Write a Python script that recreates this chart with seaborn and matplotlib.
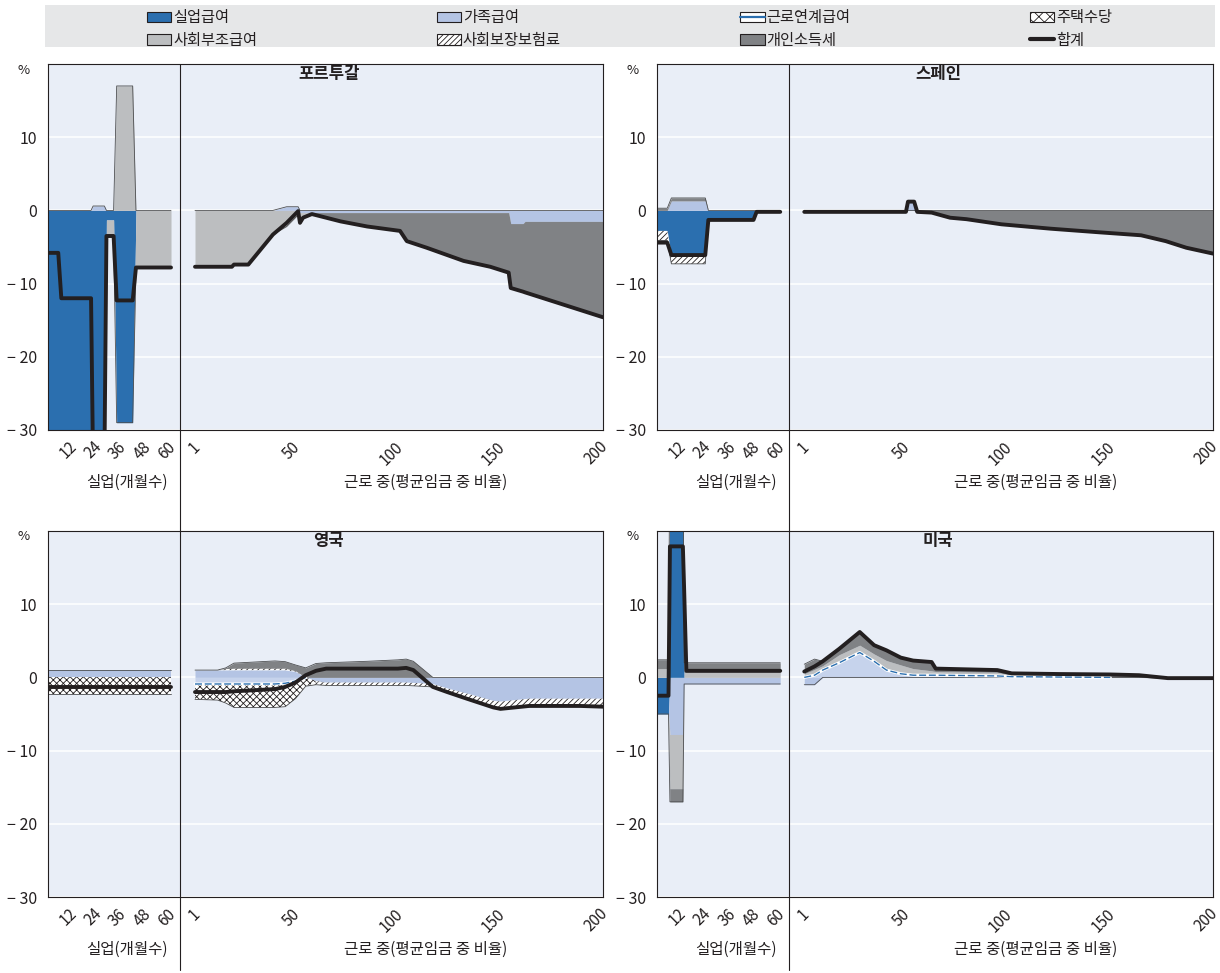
import numpy as np
import matplotlib
matplotlib.use("Agg")
import matplotlib.pyplot as plt
import matplotlib.transforms as mtransforms
import seaborn as sns
from matplotlib.patches import Patch, Rectangle
from matplotlib.lines import Line2D
from matplotlib.legend_handler import HandlerTuple

# ---------------------------------------------------------------------------
# Data: contributions (% points) by component; months unemployed / % of AW
# ---------------------------------------------------------------------------
MONTH_TICKS = [12, 24, 36, 48, 60]
WAGE_TICKS = [1, 50, 100, 150, 200]
Y_TICKS = [-30, -20, -10, 0, 10]

# Portugal
prt_m = [0, 5, 6.5, 21, 22, 27.5, 28.5, 32, 33.5, 41.3, 42.9, 60]
prt_m_unemp = [-40, -40, -40, -40, -40, -40, -1.3, -1.3, -29, -29, 0, 0]
prt_m_family = [0, 0, 0, 0, 0.6, 0.6, 0, 0, 0, 0, 0, 0]
prt_m_social = [0, 0, 0, 0, 0, 0, -2.0, -2.0, 17, 17, -7.8, -7.8]
prt_m_total = [-5.8, -5.8, -12, -12, -35, -35, -3.5, -3.5, -12.3, -12.3, -7.8, -7.8]

prt_w = [1, 19, 20, 27, 39, 45.7, 51.3, 52.2, 53.7, 58, 72, 85, 101, 104.3,
         114, 132, 145, 154, 155, 161, 162, 200]
prt_w_family = [0, 0, 0, 0, 0, 0.5, 0.5, -0.3, -0.3, -0.3, -0.3, -0.3, -0.3, -0.3,
                -0.3, -0.3, -0.3, -0.3, -1.8, -1.8, -1.5, -1.5]
prt_w_social = [-7.7, -7.7, -7.4, -7.4, -3.3, -2.2, -0.6, -0.8, -0.3, 0, 0, 0, 0, 0,
                0, 0, 0, 0, 0, 0, 0, 0]
prt_w_tax = [0, 0, 0, 0, 0, 0, 0, -0.6, -0.4, -0.2, -1.2, -1.9, -2.5, -3.9,
             -4.8, -6.6, -7.4, -8.2, -8.8, -9.3, -9.7, -13.1]
prt_w_total = [-7.7, -7.7, -7.4, -7.4, -3.3, -1.7, -0.1, -1.7, -1.0, -0.5, -1.5, -2.2,
               -2.8, -4.2, -5.1, -6.9, -7.7, -8.5, -10.6, -11.1, -11.2, -14.6]

# Spain
esp_m = [0, 5, 7, 23.5, 25, 47, 48.5, 60]
esp_m_unemp = [-2.8, -2.8, -6.2, -6.2, -1.2, -1.2, 0, 0]
esp_m_family = [0, 0, 1.3, 1.3, 0, 0, 0, 0]
esp_m_ssc = [-1.3, -1.3, -1.1, -1.1, 0, 0, 0, 0]
esp_m_tax = [0.3, 0.3, 0.4, 0.4, 0, 0, 0, 0]
esp_m_total = [-4.4, -4.4, -6.1, -6.1, -1.3, -1.3, -0.2, -0.2]

esp_w = [1, 48, 50.5, 51.5, 54.5, 56, 63, 72, 80, 97, 121, 145, 165, 177, 187, 200]
esp_w_family = [0, 0, 0, 1.2, 1.2, 0, 0, 0, 0, 0, 0, 0, 0, 0, 0, 0]
esp_w_tax = [-0.2, -0.2, -0.2, 0, 0, -0.2, -0.3, -1.0, -1.2, -1.9, -2.5, -3.0,
             -3.4, -4.2, -5.1, -5.9]
esp_w_total = [-0.2, -0.2, -0.2, 1.2, 1.2, -0.2, -0.3, -1.0, -1.2, -1.9, -2.5, -3.0,
               -3.4, -4.2, -5.1, -5.9]

# United Kingdom
gbr_m = [0, 60]
gbr_m_family = [1.0, 1.0]
gbr_m_housing = [-2.3, -2.3]
gbr_m_total = [-1.3, -1.3]

gbr_w = [1, 12, 16, 20, 40, 45, 50, 55, 60, 65, 85, 100, 104, 107.5, 117, 124,
         133.5, 146.5, 150, 164, 189, 200]
gbr_w_family = [1.0, 1.0, 1.0, 1.0, 1.0, 1.0, 0.8, 0, -0.5, -0.7, -0.7, -0.7, -0.7,
                -0.75, -0.9, -1.5, -2.2, -3.2, -3.3, -2.9, -2.9, -2.9]
gbr_w_inwork = [-0.9, -0.9, -0.9, -0.9, -0.9, -0.8, -0.5, 0, 0, 0, 0, 0, 0, 0, 0, 0,
                0, 0, 0, 0, 0, 0]
gbr_w_housing = [-2.1, -2.2, -2.6, -3.2, -3.2, -3.2, -2.4, -1.2, -0.2, 0, 0, 0, 0, 0,
                 0, 0, 0, 0, 0, 0, 0, 0]
gbr_w_ssc = [0, 0, 0.2, 0.25, 0.25, 0.25, 0.1, 0, -0.3, -0.4, -0.4, -0.4, -0.4, -0.4,
             -0.4, -0.5, -0.7, -0.9, -1.0, -1.0, -1.0, -1.1]
gbr_w_tax = [0, 0, 0.1, 0.7, 1.0, 0.9, 0.8, 1.3, 1.9, 2.0, 2.2, 2.4, 2.5, 2.2, 0, 0,
             0, 0, 0, 0, 0, 0]
gbr_w_total = [-2.0, -2.0, -2.0, -1.9, -1.6, -1.3, -0.7, 0.3, 0.9, 1.2, 1.2, 1.2, 1.3,
               1.0, -1.3, -2.0, -2.9, -4.1, -4.3, -3.9, -3.9, -4.0]

# United States
usa_m = [0, 5.6, 6.3, 12.6, 13.2, 14.3, 60]
usa_m_unemp = [-5.0, -5.0, 35, 35, 0, 0, 0]
usa_m_family = [0, 0, -7.8, -7.8, -0.9, -0.9, -0.9]
usa_m_social = [1.2, 1.2, -7.4, -7.4, 0.7, 0.7, 0.7]
usa_m_tax = [1.2, 1.2, -1.8, -1.8, 1.3, 1.3, 1.3]
usa_m_total = [-2.5, -2.5, 17.9, 17.9, 12.2, 0.9, 0.9]

usa_w = [1, 6, 10, 18, 28, 35, 41, 48, 54, 63, 65, 80, 95, 102, 125, 150, 164, 178, 200]
usa_w_inwork = [0, 0.3, 1.0, 2.0, 3.4, 2.2, 1.0, 0.5, 0.3, 0.3, 0.3, 0.25, 0.2, 0.1,
                0.05, 0, 0, 0, 0]
usa_w_family = [-1.0, -1.0, 0, 0, 0, 0, 0, 0, 0, 0, 0, 0, 0, 0, 0, 0, 0, 0, 0]
usa_w_social = [0.5, 0.8, 0.6, 1.1, 1.0, 1.0, 1.3, 1.2, 0.9, 0.6, 0.5, 0.5, 0.5, 0.2,
                0.2, 0.1, 0, 0, 0]
usa_w_tax = [1.3, 1.4, 0.6, 0.8, 1.8, 1.2, 1.4, 1.0, 1.1, 1.2, 0.4, 0.3, 0.3, 0.2,
             0.2, 0.3, 0.3, -0.1, -0.1]
usa_w_total = [0.8, 1.5, 2.2, 3.9, 6.2, 4.4, 3.7, 2.7, 2.3, 2.1, 1.2, 1.1, 1.0, 0.55,
               0.46, 0.4, 0.3, -0.1, -0.1]

# ---------------------------------------------------------------------------
# Styling
# ---------------------------------------------------------------------------
sns.set_theme(style="white")
plt.rcParams["font.family"] = ["Noto Sans CJK KR", "DejaVu Sans"]
plt.rcParams["hatch.linewidth"] = 0.6
plt.rcParams["hatch.color"] = "#231F20"
plt.rcParams["axes.unicode_minus"] = True

INK = "#231F20"
C_UNEMP = "#2B6FAF"
C_FAMILY = "#B4C4E4"
C_INWORK = "#C6D3EC"
C_SOCIAL = "#BCBEC0"
C_TAX = "#808285"
PANEL_BG = "#E9EEF7"
BAND_BG = "#E6E7E8"

HATCH_HOUSING = "xxxxx"
HATCH_SSC = "//////"

ORDER = ["unemp", "family", "inwork", "housing", "social", "ssc", "tax"]
STYLE = {
    "unemp": dict(facecolor=C_UNEMP),
    "family": dict(facecolor=C_FAMILY),
    "inwork": dict(facecolor=C_INWORK),
    "housing": dict(facecolor="white", hatch=HATCH_HOUSING, edgecolor=INK),
    "social": dict(facecolor=C_SOCIAL),
    "ssc": dict(facecolor="white", hatch=HATCH_SSC, edgecolor=INK),
    "tax": dict(facecolor=C_TAX),
}

WORK_OFFSET = 70.7   # x position of 0 % AW on the shared axis
SEPARATOR_X = 64.4
X_MAX = 270.7

PANELS = [
    dict(title="포르투갈", box=(48, 603, 64, 430),
         m=prt_m, m_comp=dict(unemp=prt_m_unemp, family=prt_m_family, social=prt_m_social),
         m_total=prt_m_total,
         w=prt_w, w_comp=dict(family=prt_w_family, social=prt_w_social, tax=prt_w_tax),
         w_total=prt_w_total),
    dict(title="스페인", box=(657, 1213, 64, 430),
         m=esp_m, m_comp=dict(unemp=esp_m_unemp, family=esp_m_family, ssc=esp_m_ssc, tax=esp_m_tax),
         m_total=esp_m_total,
         w=esp_w, w_comp=dict(family=esp_w_family, tax=esp_w_tax),
         w_total=esp_w_total),
    dict(title="영국", box=(48, 603, 531, 897),
         m=gbr_m, m_comp=dict(family=gbr_m_family, housing=gbr_m_housing),
         m_total=gbr_m_total,
         w=gbr_w, w_comp=dict(family=gbr_w_family, inwork=gbr_w_inwork, housing=gbr_w_housing,
                              ssc=gbr_w_ssc, tax=gbr_w_tax),
         w_total=gbr_w_total),
    dict(title="미국", box=(657, 1213, 531, 897),
         m=usa_m, m_comp=dict(unemp=usa_m_unemp, family=usa_m_family, social=usa_m_social,
                              tax=usa_m_tax),
         m_total=usa_m_total,
         w=usa_w, w_comp=dict(inwork=usa_w_inwork, family=usa_w_family, social=usa_w_social,
                              tax=usa_w_tax),
         w_total=usa_w_total),
]

W_PX, H_PX = 1220, 973
fig = plt.figure(figsize=(W_PX / 100, H_PX / 100), dpi=100)
fig.patch.set_facecolor("white")


def fig_rect(l, r, t, b):
    return [l / W_PX, 1 - b / H_PX, (r - l) / W_PX, (b - t) / H_PX]


def draw_segment(ax, x, comps, total, offset):
    xs = np.asarray(x, float) + offset
    pos_base = np.zeros_like(xs)
    neg_base = np.zeros_like(xs)
    for key in ORDER:
        if key not in comps:
            continue
        v = np.asarray(comps[key], float)
        st = dict(STYLE[key])
        for part, base in ((np.clip(v, 0, None), pos_base), (np.clip(v, None, 0), neg_base)):
            if not np.any(part != 0):
                continue
            ax.fill_between(xs, base, base + part, linewidth=0, zorder=2, **st)
            if key == "inwork":
                nz = part != 0
                keep = nz.copy()
                keep[1:] |= nz[:-1]
                keep[:-1] |= nz[1:]
                edge = np.where(keep, base + part, np.nan)
                ax.plot(xs, edge, color="white", lw=2.2, zorder=2.6)
                ax.plot(xs, edge, color=C_UNEMP, lw=1.0, ls=(0, (5, 2)), zorder=2.7)
            base += part
    ax.plot(xs, pos_base, color="#4D4E50", lw=0.6, zorder=2.5)
    ax.plot(xs, neg_base, color="#4D4E50", lw=0.6, zorder=2.5)
    sns.lineplot(x=xs, y=np.asarray(total, float), ax=ax, color=INK, linewidth=2.8,
                 estimator=None, sort=False, legend=False, zorder=3,
                 solid_capstyle="round", solid_joinstyle="round")


def fmt_tick(v):
    return "\u2212 " + str(abs(v)) if v < 0 else str(v)


label_shift = mtransforms.ScaledTranslation(-4 / 100, 0, fig.dpi_scale_trans)

for p in PANELS:
    l, r, t, b = p["box"]
    ax = fig.add_axes(fig_rect(l, r, t, b))
    ax.set_facecolor(PANEL_BG)
    ax.set_xlim(0, X_MAX)
    ax.set_ylim(-30, 20)
    ax.set_yticks(Y_TICKS)
    ax.set_yticklabels([fmt_tick(v) for v in Y_TICKS], fontsize=11.5, color=INK)
    ax.grid(axis="y", color="white", lw=1.1)
    ax.grid(axis="x", visible=False)
    ax.set_axisbelow(True)
    for s in ax.spines.values():
        s.set_color(INK)
        s.set_linewidth(0.8)
    ax.tick_params(axis="both", length=0)
    ax.tick_params(axis="y", pad=8)
    ax.tick_params(axis="x", pad=6)

    draw_segment(ax, p["m"], p["m_comp"], p["m_total"], 0.0)
    draw_segment(ax, p["w"], p["w_comp"], p["w_total"], WORK_OFFSET)

    xt = list(MONTH_TICKS) + [w + WORK_OFFSET for w in WAGE_TICKS]
    ax.set_xticks(xt)
    ax.set_xticklabels([str(v) for v in MONTH_TICKS] + [str(v) for v in WAGE_TICKS],
                       fontsize=11, color=INK, rotation=45, ha="right",
                       rotation_mode="anchor")
    for lab in ax.get_xticklabels():
        lab.set_transform(lab.get_transform() + label_shift)
    ax.set_xlabel("")
    ax.set_ylabel("")

    ax.annotate(p["title"], xy=(137, 1), xycoords=ax.get_xaxis_transform(),
                xytext=(0, -7), textcoords="offset points", ha="center", va="center",
                fontsize=12, fontweight="bold", color=INK)
    ax.annotate("실업(개월수)", xy=(38.5, 0), xycoords=ax.get_xaxis_transform(),
                xytext=(0, -38), textcoords="offset points", ha="center", va="center",
                fontsize=11.2, color=INK)
    ax.annotate("근로 중(평균임금 중 비율)", xy=(184.4, 0), xycoords=ax.get_xaxis_transform(),
                xytext=(0, -38), textcoords="offset points", ha="center", va="center",
                fontsize=11.2, color=INK)
    fig.text((l - 24) / W_PX, 1 - (t + 6) / H_PX, "%", fontsize=9.5, color=INK,
             ha="center", va="center")

# Vertical separators between the unemployment and in-work parts
for l, r in ((48, 603), (657, 1213)):
    xsep = (l + SEPARATOR_X / X_MAX * (r - l)) / W_PX
    fig.add_artist(Line2D([xsep, xsep], [1 - 64 / H_PX, 1 - 970 / H_PX],
                          color=INK, lw=0.8, transform=fig.transFigure, zorder=5))

# Legend band
fig.patches.append(Rectangle((45 / W_PX, 1 - 47 / H_PX), 1170 / W_PX, 42 / H_PX,
                             transform=fig.transFigure, facecolor=BAND_BG,
                             edgecolor="none", zorder=0))

handles = [
    Patch(facecolor=C_UNEMP, edgecolor=INK, lw=0.8),
    Patch(facecolor=C_SOCIAL, edgecolor=INK, lw=0.8),
    Patch(facecolor=C_FAMILY, edgecolor=INK, lw=0.8),
    Patch(facecolor="white", edgecolor=INK, hatch="//////", lw=0.8),
    (Patch(facecolor="white", edgecolor=INK, lw=0.8), Line2D([], [], color=C_UNEMP, lw=1.6)),
    Patch(facecolor=C_TAX, edgecolor=INK, lw=0.8),
    Patch(facecolor="white", edgecolor=INK, hatch="xxx", lw=0.8),
    Line2D([], [], color=INK, lw=3),
]
labels = ["실업급여", "사회부조급여", "가족급여", "사회보장보험료",
          "근로연계급여", "개인소득세", "주택수당", "합계"]
fig.legend(handles, labels, ncol=4, mode="expand", loc="center",
           bbox_to_anchor=(147 / W_PX, 1 - 48 / H_PX, 965 / W_PX, 38 / H_PX),
           frameon=False, handler_map={tuple: HandlerTuple(ndivide=1, pad=0)},
           handlelength=1.6, handleheight=0.7, handletextpad=0.12,
           labelspacing=0.35, borderpad=0, borderaxespad=0, fontsize=11,
           labelcolor=INK)

fig.savefig("out.png", dpi=100, facecolor="white")
